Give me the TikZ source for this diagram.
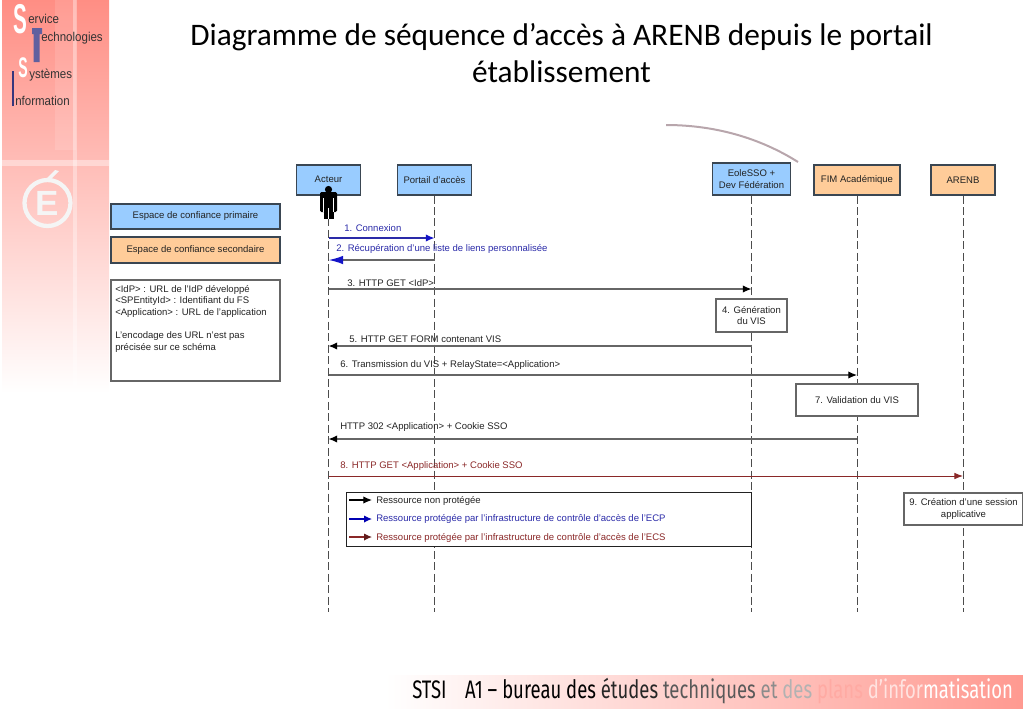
\documentclass[tikz,border=0pt]{standalone}
\usepackage{graphicx}
\usepackage{fontspec}
\setmainfont{Liberation Sans}
\newfontfamily\titlefont{Carlito}
\newfontfamily\footfont{Fira Sans}
\usetikzlibrary{arrows.meta,calc}
\definecolor{primblue}{HTML}{99CCFF}
\definecolor{secorange}{HTML}{FFCC99}
\definecolor{boxedge}{HTML}{3A4652}
\definecolor{msgblue}{HTML}{2A2AA8}
\definecolor{tipblue}{HTML}{1414C8}
\definecolor{msgred}{HTML}{8A2828}
\definecolor{msgblack}{HTML}{222222}
\definecolor{linegrey}{HTML}{666666}
\definecolor{salmon}{HTML}{FF8E84}
\definecolor{curvecol}{HTML}{B8A6AC}
\tikzset{
  x=0.75pt,y=-0.75pt,
  small/.style={font=\fontsize{7.15}{8.7}\selectfont,text=msgblack,inner sep=0pt},
  actorbox/.style={draw=boxedge,line width=0.8pt,small,align=center,minimum height=22.5pt,inner sep=0pt},
  prim/.style={actorbox,fill=primblue},
  sec/.style={actorbox,fill=secorange},
  notebox/.style={draw=linegrey,line width=0.8pt,fill=white,small,align=center,inner sep=0pt},
  lifeline/.style={draw=black!70,line width=0.7pt,dash pattern=on 6pt off 2.6pt},
  msg/.style={draw=linegrey,line width=0.85pt,-{Latex[length=6.5pt,width=5.5pt,color=black]}},
  msglabel/.style={small,anchor=west},
  sidetext/.style={font=\fontsize{9.6}{10}\selectfont,text=black!80,inner sep=0pt,anchor=west},
}
\begin{document}
\begin{tikzpicture}
\useasboundingbox (0,0) rectangle (1023,708);
% side panel
\shade[top color=salmon,middle color=salmon!50!white,bottom color=white,shading angle=0] (2,0) rectangle (109,393);
\fill[white,opacity=.12] (55,0) rectangle (76,150);
\fill[white,opacity=.35] (73,0) rectangle (77,393);
\fill[white,opacity=.4] (2,160) rectangle (109,166);
% footer band
\shade[left color=white,right color=salmon!90!white] (385,675) rectangle (1023,708);
% side lettering
\node[font=\bfseries\fontsize{25}{25}\selectfont,text=white,inner sep=0pt] (sbig) at (20,19) {\scalebox{.62}[1.25]{S}};
\fill[blue!25!gray] (32,28) rectangle (42,34) (33.5,28) rectangle (39.5,62);
\node[font=\bfseries\fontsize{17}{17}\selectfont,text=white,inner sep=0pt] (ssmall) at (23,68) {\scalebox{.62}[1.25]{S}};
\fill[blue!40!gray!70!black] (12,71) rectangle (14,106);
\node[sidetext] (t1) at (28,19) {\scalebox{.9}[1]{ervice}};
\node[sidetext] (t2) at (41,38) {\scalebox{.9}[1]{echnologies}};
\node[sidetext] (t3) at (29,75) {\scalebox{.9}[1]{ystèmes}};
\node[sidetext] (t4) at (15,101) {\scalebox{.9}[1]{nformation}};
% logo
\draw[white!92!gray,line width=3.2pt] (47.5,203) circle (23);
\node[font=\bfseries\fontsize{25}{25}\selectfont,text=white!92!gray,inner sep=0pt] (logo) at (47,203.5) {\scalebox{1.05}[1.05]{E}};
\fill[white!92!gray] (45,180) -- (55,170) -- (59,171) -- (49,181) -- cycle;
% title
\node[font=\titlefont\fontsize{23.5}{28.4}\selectfont,text=black,align=center,inner sep=0pt] (title) at (561.5,53) {Diagramme de séquence d’accès à ARENB depuis le portail\\établissement};
% curve
\draw[color=curvecol,line width=1.5pt] (666,125) .. controls (715,125) and (760,138) .. (798,162);
% left boxes
\node[prim,minimum width=126.75pt,minimum height=18.75pt] (l1) at (195.5,216.5) {Espace de confiance primaire};
\node[sec,minimum width=126.75pt,minimum height=19.5pt] (l2) at (195.5,250) {Espace de confiance secondaire};
\node[draw=linegrey,line width=.8pt,fill=white,minimum width=126.75pt,minimum height=75.75pt,inner sep=0pt] (l3) at (195.5,330.5) {};
\node[small,anchor=north west,align=left] (l3t) at (115,285) {<IdP> : URL de l’IdP développé\\<SPEntityId> : Identifiant du FS\\<Application> : URL de l’application\\[8.7pt]L’encodage des URL n’est pas\\précisée sur ce schéma};
% lifeline heads
\node[prim,minimum width=48pt] (a) at (328.5,180) {};
\node[small] (at) at (328.5,179.5) {Acteur};
\node[prim,minimum width=56pt] (p) at (434.5,180) {Portail d’accès};
\node[prim,minimum width=59pt,minimum height=24pt] (e) at (751.5,179) {EoleSSO +\\Dev Fédération};
\node[sec,minimum width=64.5pt] (f) at (857,180) {FIM Académique};
\node[sec,minimum width=48pt] (n) at (963,180) {ARENB};
\foreach \n/\m in {a/ea,p/ep,e/ee,f/ef,n/en}{
  \coordinate (\m) at (\n.south |- 0,612);
  \draw[lifeline] (\n.south) -- (\m);
}
% actor figure
\fill[black] (328.5,189.5) circle (3.6);
\fill[black,rounded corners=1pt] (320,192) rectangle (337,212);
\fill[black] (323.5,200) rectangle (333.5,219);
\draw[white,line width=.5pt] (323.5,198) -- (323.5,212) (333.5,198) -- (333.5,212) (328.5,208) -- (328.5,219);
% process boxes
\node[notebox,minimum width=53.25pt,minimum height=24.75pt] (g) at (751.5,315.5) {4. Génération\\du VIS};
\node[notebox,minimum width=91.5pt,minimum height=24pt] (v) at (857,400) {7. Validation du VIS};
\node[notebox,minimum width=89.25pt,minimum height=24pt] (c) at (963.5,509) {9. Création d’une session\\applicative};
% messages
\draw[msg,draw=msgblue,-{Latex[length=6.5pt,width=5.5pt,color=tipblue]}] (a.south |- 0,238) -- (p.south |- 0,238);
\draw[msg,draw=linegrey,line width=1.2pt,-{Latex[length=11pt,width=6.5pt,color=tipblue]}] (p.south |- 0,260) -- (a.south |- 0,260);
\draw[msg] (a.south |- 0,289) -- (e.south |- 0,289);
\draw[msg] (e.south |- 0,346) -- (a.south |- 0,346);
\draw[msg] (a.south |- 0,375) -- (f.south |- 0,375);
\draw[msg] (f.south |- 0,439) -- (a.south |- 0,439);
\draw[msg,draw=msgred,line width=.7pt,-{Latex[length=6.5pt,width=5pt,color=msgred]}] (a.south |- 0,476) -- (n.south |- 0,476);
% message labels
\node[msglabel,text=msgblue] (m1) at (344,228.5) {1. Connexion};
\node[msglabel,text=msgblue] (m2) at (336,248.5) {2. Récupération d’une liste de liens personnalisée};
\node[msglabel] (m3) at (347,283.5) {3. HTTP GET <IdP>};
\node[msglabel] (m5) at (349,339.5) {5. HTTP GET FORM contenant VIS};
\node[msglabel] (m6) at (340,365) {6. Transmission du VIS + RelayState=<Application>};
\node[msglabel] (m7) at (340,427.5) {HTTP 302 <Application> + Cookie SSO};
\node[msglabel,text=msgred] (m8) at (340,466.5) {8. HTTP GET <Application> + Cookie SSO};
% legend
\node[draw=msgblack,line width=.7pt,fill=white,minimum width=303.75pt,minimum height=40.5pt,inner sep=0pt] (leg) at (548.5,519) {};
\node[msglabel] (k1) at (376,500.5) {Ressource non protégée};
\node[msglabel,text=msgblue] (k2) at (376,519) {Ressource protégée par l’infrastructure de contrôle d’accès de l’ECP};
\node[msglabel,text=msgred] (k3) at (376,537.5) {Ressource protégée par l’infrastructure de contrôle d’accès de l’ECS};
\coordinate (s1) at (349,500);\coordinate (s2) at (349,519);\coordinate (s3) at (349,537);
\draw[msg,draw=black] (s1) -- ([xshift=-3pt]k1.west |- s1);
\draw[msg,draw=blue!70!black,-{Latex[length=6pt,width=5.5pt,color=blue!70!black]}] (s2) -- ([xshift=-3pt]k2.west |- s2);
\draw[msg,draw=msgred,-{Latex[length=6pt,width=5.5pt,color=msgred!70!black]}] (s3) -- ([xshift=-3pt]k3.west |- s3);
% footer text
\node[anchor=west,inner sep=0pt,font=\footfont\fontsize{19}{19}\selectfont] (foot) at (412,691) {\scalebox{.73}[1]{\color{black}STSI\quad A1 – bureau des \color{black!85}études \color{black!65}techniques \color{black!45}et \color{black!30}des \color{salmon!75!white}plans \color{white!75!salmon}d’infor\color{white}matisation}};
\end{tikzpicture}
\end{document}
